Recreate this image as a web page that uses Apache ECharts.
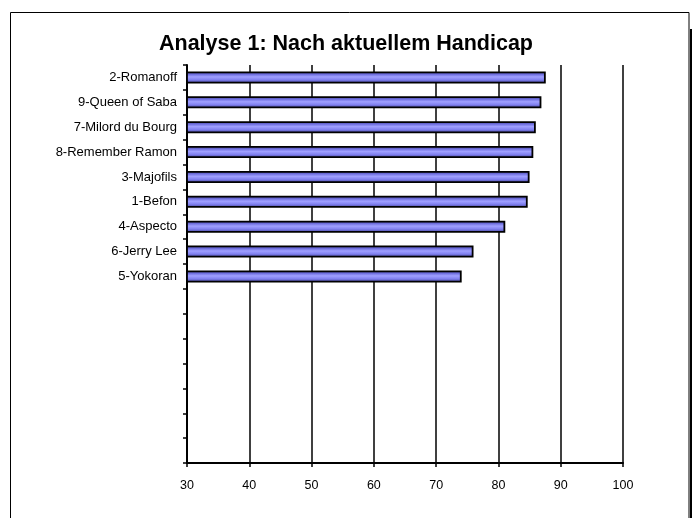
<!DOCTYPE html>
<html>
<head>
<meta charset="utf-8">
<script src="https://cdn.jsdelivr.net/npm/echarts@6/dist/echarts.min.js"></script>
<style>html,body{margin:0;padding:0;background:#fff}#c{width:692px;height:518px}</style>
</head>
<body>
<div id="c"></div>
<script>
const titleText = 'Analyse 1: Nach aktuellem Handicap';
const categories = ['2-Romanoff', '9-Queen of Saba', '7-Milord du Bourg', '8-Remember Ramon', '3-Majofils', '1-Befon', '4-Aspecto', '6-Jerry Lee', '5-Yokoran', '', '', '', '', '', '', ''];
const values = [87.6, 86.9, 86.0, 85.6, 85.0, 84.7, 81.1, 76.0, 74.1, null, null, null, null, null, null, null];
const xTicks = [30, 40, 50, 60, 70, 80, 90, 100];

const chart = echarts.init(document.getElementById('c'), null, {renderer: 'canvas'});
const font = 'Liberation Sans, Arial, sans-serif';
chart.setOption({
  animation: false,
  backgroundColor: '#fff',
  title: {
    text: titleText,
    left: 'center',
    top: 28,
    textStyle: {fontFamily: font, fontSize: 21.5, fontWeight: 'bold', color: '#000'}
  },
  grid: {left: 187, right: 69, top: 65, bottom: 55, containLabel: false},
  xAxis: {
    type: 'value',
    min: xTicks[0],
    max: xTicks[xTicks.length - 1],
    interval: 10,
    axisLine: {show: true, lineStyle: {color: '#000', width: 2}},
    axisTick: {show: true, length: 4, lineStyle: {color: '#000', width: 1.5}},
    splitLine: {show: true, lineStyle: {color: '#000', width: 1.5}},
    axisLabel: {fontFamily: font, fontSize: 12.5, color: '#000', margin: 16}
  },
  yAxis: {
    type: 'category',
    inverse: true,
    data: categories,
    axisLine: {show: true, lineStyle: {color: '#000', width: 2}},
    axisTick: {show: true, length: 4, lineStyle: {color: '#000', width: 1.5}},
    axisLabel: {fontFamily: font, fontSize: 13, color: '#000', margin: 10, interval: 0}
  },
  series: [{
    type: 'bar',
    data: values,
    barWidth: 12,
    itemStyle: {
      borderColor: '#000',
      borderWidth: 1.8,
      color: new echarts.graphic.LinearGradient(0, 0, 0, 1, [
        {offset: 0, color: '#3c3c88'},
        {offset: 0.25, color: '#7070e0'},
        {offset: 0.45, color: '#a0a0ff'},
        {offset: 0.7, color: '#8080f0'},
        {offset: 1, color: '#3c3c88'}
      ])
    }
  }],
  graphic: [
    {type: 'rect', z: -1, shape: {x: 10.5, y: 12.5, width: 678.5, height: 530}, style: {fill: 'none', stroke: '#000', lineWidth: 1}},
    {type: 'rect', z: -1, shape: {x: 690, y: 29, width: 6, height: 500}, style: {fill: '#000'}}
  ]
});
</script>
</body>
</html>
